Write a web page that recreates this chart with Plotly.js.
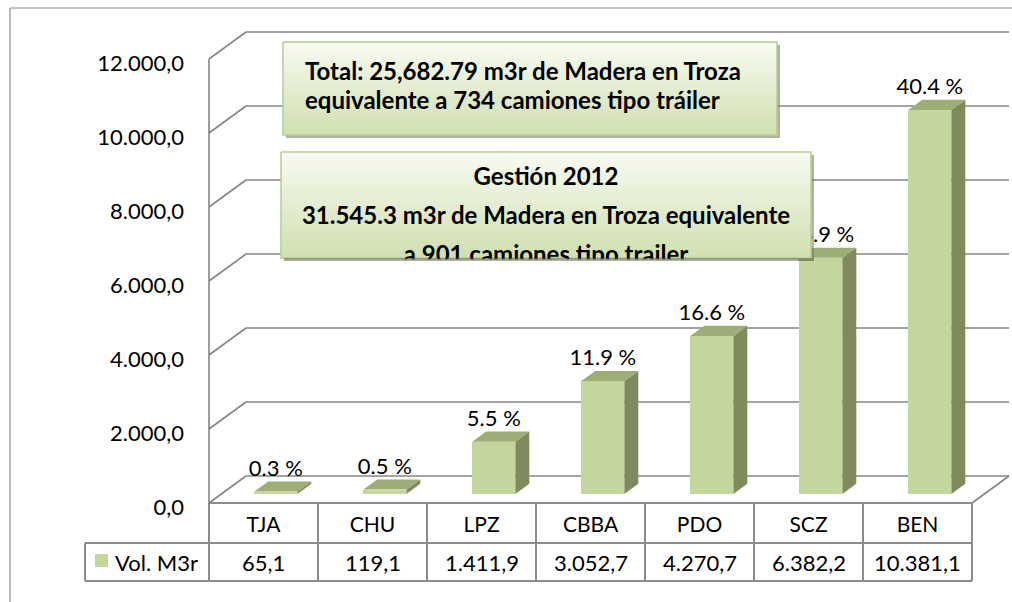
<!DOCTYPE html>
<html>
<head>
<meta charset="utf-8">
<script src="https://cdn.plot.ly/plotly-3.0.1.min.js"></script>
<style>html,body{margin:0;padding:0;background:#fff;}#chart{width:1012px;height:602px;}</style>
</head>
<body>
<div id="chart"></div>
<script>
// ---------------- data ----------------
const categories = ['TJA', 'CHU', 'LPZ', 'CBBA', 'PDO', 'SCZ', 'BEN'];
const volumes = [65.1, 119.1, 1411.9, 3052.7, 4270.7, 6382.2, 10381.1];
const pctLabels = ['0.3 %', '0.5 %', '5.5 %', '11.9 %', '16.6 %', '24.9 %', '40.4 %'];
const yTicks = [0, 2000, 4000, 6000, 8000, 10000, 12000];
const seriesName = 'Vol. M3r';
const box1Lines = ['Total: 25,682.79 m3r de Madera en Troza', 'equivalente a 734 camiones tipo tráiler'];
const box2Lines = ['Gestión 2012', '31.545.3 m3r de Madera en Troza equivalente', 'a 901 camiones tipo trailer'];

// ---------------- layout geometry (pixels) ----------------
const W = 1012, H = 602;
const AX_X = 209, COL_W = 109, ZERO_Y = 503, PX_PER_UNIT = 74 / 2000;
const DEPTH_X = 37, DEPTH_Y = 27;
const ROW1_BOTTOM = 543, ROW2_BOTTOM = 581, LEGEND_LEFT = 85;
const FONT = 'Lato, "Open Sans", sans-serif';
const FS = 22;

const xd = px => (px - AX_X) / COL_W - 0.5;
const yd = py => (ZERO_Y - py) / PX_PER_UNIT;
const DX = DEPTH_X / COL_W, DY = DEPTH_Y / PX_PER_UNIT;
const F0 = 0.333, F1 = 0.71, BAR_W = 0.395;
const n = categories.length;

const C_FRONT = '#c3d69b', C_TOP = '#9dad76', C_SIDE = '#7f8b5f';
const C_GRID = '#868686', C_TABLE = '#8c8c8c';

function fmt(v) {
  const [a, b] = v.toFixed(1).split('.');
  return a.replace(/\B(?=(\d{3})+(?!\d))/g, '.') + ',' + b;
}

// ---------------- traces ----------------
const traces = [];
const idx = categories.map((_, i) => i);
const base0 = F0 * DY, dd = (F1 - F0) * DY, dxx = (F1 - F0) * DX;

traces.push({
  type: 'bar', x: idx.map(i => i + F0 * DX), y: volumes, base: volumes.map(() => base0),
  width: BAR_W, marker: {color: C_FRONT, line: {width: 0}}, hoverinfo: 'skip', showlegend: false
});

const topX = [], topY = [], sideX = [], sideY = [];
volumes.forEach((v, i) => {
  const xl = i + F0 * DX - BAR_W / 2, xr = i + F0 * DX + BAR_W / 2, yt = base0 + v;
  topX.push(xl, xr, xr + dxx, xl + dxx, xl, null);
  topY.push(yt, yt, yt + dd, yt + dd, yt, null);
  sideX.push(xr, xr, xr + dxx, xr + dxx, xr, null);
  sideY.push(base0, yt, yt + dd, base0 + dd, base0, null);
});
traces.push({type: 'scatter', mode: 'lines', x: sideX, y: sideY, fill: 'toself', fillcolor: C_SIDE,
  line: {width: 0, color: C_SIDE}, hoverinfo: 'skip', showlegend: false});
traces.push({type: 'scatter', mode: 'lines', x: topX, y: topY, fill: 'toself', fillcolor: C_TOP,
  line: {width: 0, color: C_TOP}, hoverinfo: 'skip', showlegend: false});

traces.push({type: 'scatter', mode: 'text', x: idx.map(i => i + F0 * DX), y: volumes.map(v => base0 + v + dd),
  text: pctLabels, textposition: 'top center', textfont: {family: FONT, size: FS, color: '#000'},
  hoverinfo: 'skip', showlegend: false, cliponaxis: false});

function rectTrace(x1, y1, x2, y2, opts) {
  return Object.assign({type: 'scatter', mode: 'lines',
    x: [xd(x1), xd(x2), xd(x2), xd(x1), xd(x1)], y: [yd(y1), yd(y1), yd(y2), yd(y2), yd(y1)],
    fill: 'toself', hoverinfo: 'skip', showlegend: false}, opts);
}
function boxTraces(x1, y1, x2, y2) {
  return [
    rectTrace(x1 + 3, y1 + 3, x2 + 3, y2 + 3, {fillcolor: 'rgba(110,118,90,0.55)', line: {width: 0, color: 'rgba(0,0,0,0)'}}),
    rectTrace(x1, y1, x2, y2, {line: {width: 1.5, color: '#b9cc93'},
      fillgradient: {type: 'vertical', colorscale: [[0, '#d0dfb0'], [1, '#f8fbf2']]}})
  ];
}
const BOX_FS = 24;
function textTrace(px, py, txt, pos) {
  return {type: 'scatter', mode: 'text', x: [xd(px)], y: [yd(py)], text: [txt], textposition: pos,
    textfont: {family: FONT, size: BOX_FS, color: '#000', weight: 700}, hoverinfo: 'skip', showlegend: false};
}

// box 1
traces.push(...boxTraces(283, 42, 777, 135));
traces.push(textTrace(305, 74, box1Lines[0], 'middle right'));
traces.push(textTrace(305, 103, box1Lines[1], 'middle right'));
// box 2
traces.push(...boxTraces(281, 152, 811, 258));
traces.push(textTrace(546, 179, box2Lines[0], 'middle center'));
traces.push(textTrace(546, 218, box2Lines[1], 'middle center'));
traces.push(textTrace(546, 257, box2Lines[2], 'middle center'));
// the box clips its last line: hide the overflow, then restore the shadow strip
traces.push(rectTrace(283, 259.5, 798, 285, {fillcolor: '#ffffff', line: {width: 0, color: '#fff'}}));
traces.push(rectTrace(284, 258, 814, 261, {fillcolor: 'rgba(110,118,90,0.55)', line: {width: 0, color: 'rgba(0,0,0,0)'}}));

// ---------------- shapes (walls, grid, table, frame) ----------------
const shapes = [];
const ln = (x0, y0, x1, y1, color, width, xref, yref) => shapes.push({type: 'line', x0, y0, x1, y1,
  xref: xref || 'x', yref: yref || 'y', layer: 'below', line: {color, width}});
yTicks.forEach(t => {
  ln(-0.5, t, -0.5 + DX, t + DY, C_GRID, 1.6);
  ln(-0.5 + DX, t + DY, n - 0.5 + DX, t + DY, C_GRID, 1.6);
});
ln(-0.5, 0, -0.5, yTicks[yTicks.length - 1], C_GRID, 1.6);
ln(n - 0.5, 0, n - 0.5 + DX, DY, C_GRID, 1.6);
ln(-0.5, 0, n - 0.5, 0, C_TABLE, 2);
// table
const pf = py => (H - py) / H;
for (let i = 0; i <= n; i++) ln(i - 0.5, pf(ZERO_Y), i - 0.5, pf(ROW2_BOTTOM), C_TABLE, 2, 'x', 'paper');
ln(xd(LEGEND_LEFT), pf(ROW1_BOTTOM), n - 0.5, pf(ROW1_BOTTOM), C_TABLE, 2, 'x', 'paper');
ln(xd(LEGEND_LEFT), pf(ROW2_BOTTOM), n - 0.5, pf(ROW2_BOTTOM), C_TABLE, 2, 'x', 'paper');
ln(xd(LEGEND_LEFT), pf(ROW1_BOTTOM), xd(LEGEND_LEFT), pf(ROW2_BOTTOM), C_TABLE, 2, 'x', 'paper');
shapes.push({type: 'rect', xref: 'paper', yref: 'paper', x0: 95 / W, x1: 108 / W, y0: pf(567), y1: pf(554),
  fillcolor: C_FRONT, line: {width: 0}});
// outer frame
shapes.push({type: 'line', xref: 'paper', yref: 'paper', x0: 10 / W, x1: 10 / W, y0: pf(8), y1: 0, line: {color: '#8a8a8a', width: 1.2}});
shapes.push({type: 'line', xref: 'paper', yref: 'paper', x0: 10 / W, x1: 1, y0: pf(8), y1: pf(8), line: {color: '#8a8a8a', width: 1.2}});

// ---------------- annotations (table values, legend) ----------------
const rowMid = (ROW1_BOTTOM + ROW2_BOTTOM) / 2;
const annotations = volumes.map((v, i) => ({x: i, xref: 'x', y: pf(rowMid), yref: 'paper', text: fmt(v),
  showarrow: false, font: {family: FONT, size: FS, color: '#000'}, xanchor: 'center', yanchor: 'middle'}));
annotations.push({x: 113 / W, xref: 'paper', y: pf(rowMid), yref: 'paper', text: seriesName, showarrow: false,
  xanchor: 'left', yanchor: 'middle', font: {family: FONT, size: FS, color: '#000'}});

const layout = {
  width: W, height: H, margin: {l: 0, r: 0, t: 0, b: 0, pad: 0},
  paper_bgcolor: '#fff', plot_bgcolor: 'rgba(0,0,0,0)', showlegend: false,
  separators: ',.', font: {family: FONT, size: FS, color: '#000'},
  xaxis: {range: [xd(0), xd(W)], anchor: 'free', position: (H - ZERO_Y) / H, tickvals: idx, ticktext: categories,
    showgrid: false, zeroline: false, showline: false, ticks: '', ticklabelstandoff: 7,
    tickfont: {family: FONT, size: 21, color: '#000'}, fixedrange: true, automargin: false},
  yaxis: {range: [yd(H), yd(0)], anchor: 'free', position: AX_X / W, tickvals: yTicks, tickformat: ',.1f',
    showgrid: false, zeroline: false, showline: false, ticks: '', ticklabelstandoff: 25, ticklabelshift: 4,
    tickfont: {family: FONT, size: FS, color: '#000'}, fixedrange: true, automargin: false},
  shapes, annotations, bargap: 0
};
Plotly.newPlot('chart', traces, layout, {displayModeBar: false, staticPlot: true});
</script>
</body>
</html>
